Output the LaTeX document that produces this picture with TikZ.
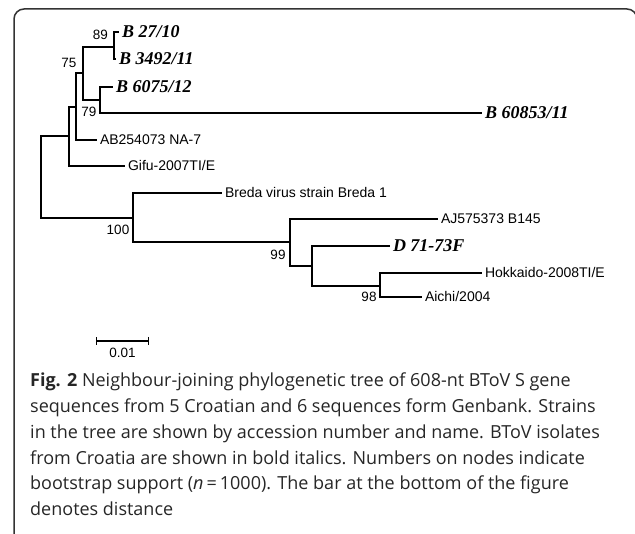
\documentclass[tikz,border=0pt]{standalone}
\usepackage{fontspec}
\setmainfont{Open Sans}
\newfontfamily\arialfont{Liberation Sans}
\newfontfamily\timesfont{Liberation Serif}
\usetikzlibrary{arrows.meta,positioning,calc}

\tikzset{
  branch/.style={line width=1.2pt, black},
  taxon/.style={anchor=west, inner sep=3pt, outer sep=0pt, text height=10pt, text depth=0pt,
    font=\arialfont\fontsize{14}{16}\selectfont},
  isolate/.style={taxon, text height=12pt, font=\timesfont\bfseries\itshape\fontsize{18}{20}\selectfont},
  boot/.style={inner sep=0pt, font=\arialfont\fontsize{13.5}{15}\selectfont}
}

\begin{document}
\begin{tikzpicture}[x=1pt, y=-1pt]
  \useasboundingbox (0,0) rectangle (635,534);

  % Frame
  \draw[line width=1.5pt, black!80, rounded corners=10pt] (14,545) |- (637,9) -- (637,545);

  % Internal nodes
  \coordinate (root) at (41,177);
  \coordinate (n69) at (69,136);
  \coordinate (n75) at (76,107);
  \coordinate (n83) at (83,73);
  \coordinate (n89) at (114,47);
  \coordinate (n79) at (100,100);
  \coordinate (n100) at (133,218);
  \coordinate (n99) at (290,242);
  \coordinate (n312) at (312,266);
  \coordinate (n98) at (380,286);

  % Taxa
  \node[isolate] (b2710) at (119,32) {B 27/10};
  \node[isolate] (b3492) at (116,59) {B 3492/11};
  \node[isolate] (b6075) at (113,87) {B 6075/12};
  \node[isolate] (b60853) at (482,113) {B 60853/11};
  \node[taxon] (ab) at (97,140) {AB254073 NA-7};
  \node[taxon] (gifu) at (125,166) {Gifu-2007TI/E};
  \node[taxon] (breda) at (222,193) {Breda virus strain Breda 1};
  \node[taxon] (aj) at (438,219) {AJ575373 B145};
  \node[isolate] (d71) at (390,246) {D 71-73F};
  \node[taxon] (hok) at (482,273) {Hokkaido-2008TI/E};
  \node[taxon] (aichi) at (422,297) {Aichi/2004};

  % Branches
  \draw[branch] (root) |- (n69);
  \draw[branch] (root) |- (n100);
  \draw[branch] (n69) |- (n75);
  \draw[branch] (n69) |- (gifu.west);
  \draw[branch] (n75) |- (n83);
  \draw[branch] (n75) |- (ab.west);
  \draw[branch] (n83) |- (n89);
  \draw[branch] (n83) |- (n79);
  \draw[branch] (n89) |- (b2710.west);
  \draw[branch] (n89) |- (b3492.west);
  \draw[branch] (n79) |- (b6075.west);
  \draw[branch] (n79) |- (b60853.west);
  \draw[branch] (n100) |- (breda.west);
  \draw[branch] (n100) |- (n99);
  \draw[branch] (n99) |- (aj.west);
  \draw[branch] (n99) |- (n312);
  \draw[branch] (n312) |- (d71.west);
  \draw[branch] (n312) |- (n98);
  \draw[branch] (n98) |- (hok.west);
  \draw[branch] (n98) |- (aichi.west);

  % Bootstrap values
  \node[boot, anchor=east] (bs89) at (108,35) {89};
  \node[boot] (bs75) at (69,63) {75};
  \node[boot] (bs79) at (89,112) {79};
  \node[boot] (bs100) at (118,230) {100};
  \node[boot] (bs99) at (278,255) {99};
  \node[boot] (bs98) at (369,297) {98};

  % Scale bar
  \coordinate (sbl) at (96,341);
  \coordinate (sbr) at (149,341);
  \draw[branch, {Bar[width=8pt]}-{Bar[width=8pt]}] (sbl) -- (sbr);
  \node[boot, below=7pt] (sblabel) at ($(sbl)!0.5!(sbr)$) {0.01};

  % Caption
  \node[anchor=north west, inner sep=0pt, align=left, text=black!85,
    font=\fontsize{18}{25.7}\selectfont] (caption) at (30,373) {%
    \textbf{Fig. 2} Neighbour-joining phylogenetic tree of 608-nt BToV S gene\\
    sequences from 5 Croatian and 6 sequences form Genbank. Strains\\
    in the tree are shown by accession number and name. BToV isolates\\
    from Croatia are shown in bold italics. Numbers on nodes indicate\\
    bootstrap support (\textit{n}\,=\,1000). The bar at the bottom of the figure\\
    denotes distance};
\end{tikzpicture}
\end{document}
